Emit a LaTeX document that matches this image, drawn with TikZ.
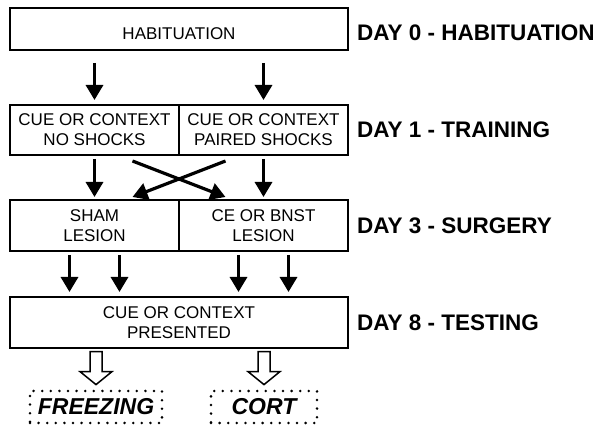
\documentclass[tikz,border=0pt]{standalone}
\usepackage{fontspec}
\setmainfont{Liberation Sans}
\usetikzlibrary{%
  arrows.meta,%
  calc,%
  positioning% wg. " of "
}

\begin{document}
\begin{tikzpicture}[
    x=1pt,y=1pt,
    every node/.style={font=\fontsize{17}{20}\selectfont},
    stage/.style={rectangle,draw,line width=2.5pt,align=center,
        inner sep=0pt,outer sep=0pt,minimum height=51pt},
    half/.style={stage,minimum width=169pt},
    whole/.style={stage,minimum width=338pt},
    daylabel/.style={anchor=west,inner sep=0pt,
        font=\fontsize{22.5}{26}\selectfont\bfseries},
    result/.style={draw,line width=2.8pt,dash pattern=on 0pt off 8.6pt,
        line cap=round,minimum height=32pt,inner sep=0pt,
        font=\fontsize{23}{27}\selectfont\bfseries\itshape},
    flow/.style={-{Triangle[width=17pt,length=15pt]},line width=3.2pt},
    hollow/.pic={\draw[line width=1.5pt,miter limit=10]
        (-6,0) -- (-6,-20) -- (-16,-20) -- (0,-33) -- (16,-20)
        -- (6,-20) -- (6,0) -- cycle;},
    node distance=45pt
  ]
    \useasboundingbox (0,0) rectangle (603,-427);

    % stages
    \node[whole,minimum height=42pt,text height=21pt,text depth=0pt]
        (hab) at (179,-29) {HABITUATION};
    \node[half,below=55pt of hab.south west,anchor=north west,minimum height=50pt]
        (noshock) {CUE OR CONTEXT\\NO SHOCKS};
    \node[half,right=0pt of noshock,minimum height=50pt]
        (paired) {CUE OR CONTEXT\\PAIRED SHOCKS};
    \node[half,below=of noshock] (sham)   {SHAM\\LESION};
    \node[half,right=0pt of sham] (lesion) {CE OR BNST\\LESION};
    \node[whole,below=46pt of sham.south west,anchor=north west]
        (test) {CUE OR CONTEXT\\PRESENTED};

    \node[result,minimum width=132pt] (freeze) at (96,-407) {FREEZING};
    \node[result,minimum width=106pt] (cort)   at (264,-407) {CORT};

    % days
    \node[daylabel,right=9pt of hab,yshift=-4pt] (day0) {DAY 0 - HABITUATION};
    \node[daylabel,right=9pt of paired] (day1) {DAY 1 - TRAINING};
    \node[daylabel,right=9pt of lesion] (day3) {DAY 3 - SURGERY};
    \node[daylabel,right=9pt of test]   (day8) {DAY 8 - TESTING};

    % arrows
    \draw[flow,shorten <=13pt,shorten >=5pt] (hab.south -| noshock.north) -- (noshock.north);
    \draw[flow,shorten <=13pt,shorten >=5pt] (hab.south -| paired.north) -- (paired.north);
    \draw[flow,shorten <=4pt,shorten >=3pt] (noshock) -- (sham);
    \draw[flow,shorten <=4pt,shorten >=3pt] (paired) -- (lesion);
    \draw[flow] ($(noshock.south)+(38,-6)$) -- ($(lesion.north)+(-38,3)$);
    \draw[flow] ($(paired.south)+(-38,-6)$) -- ($(sham.north)+(38,3)$);
    \foreach \dx in {-25,25} {
        \draw[flow] ($(sham.south)+(\dx,-4)$) -- ($(sham.south)+(\dx,-41)$);
        \draw[flow] ($(lesion.south)+(\dx,-4)$) -- ($(lesion.south)+(\dx,-41)$);
    }
    \pic at ($(freeze.north)+(0,38)$) {hollow};
    \pic at ($(cort.north)+(0,38)$) {hollow};
\end{tikzpicture}
\end{document}
